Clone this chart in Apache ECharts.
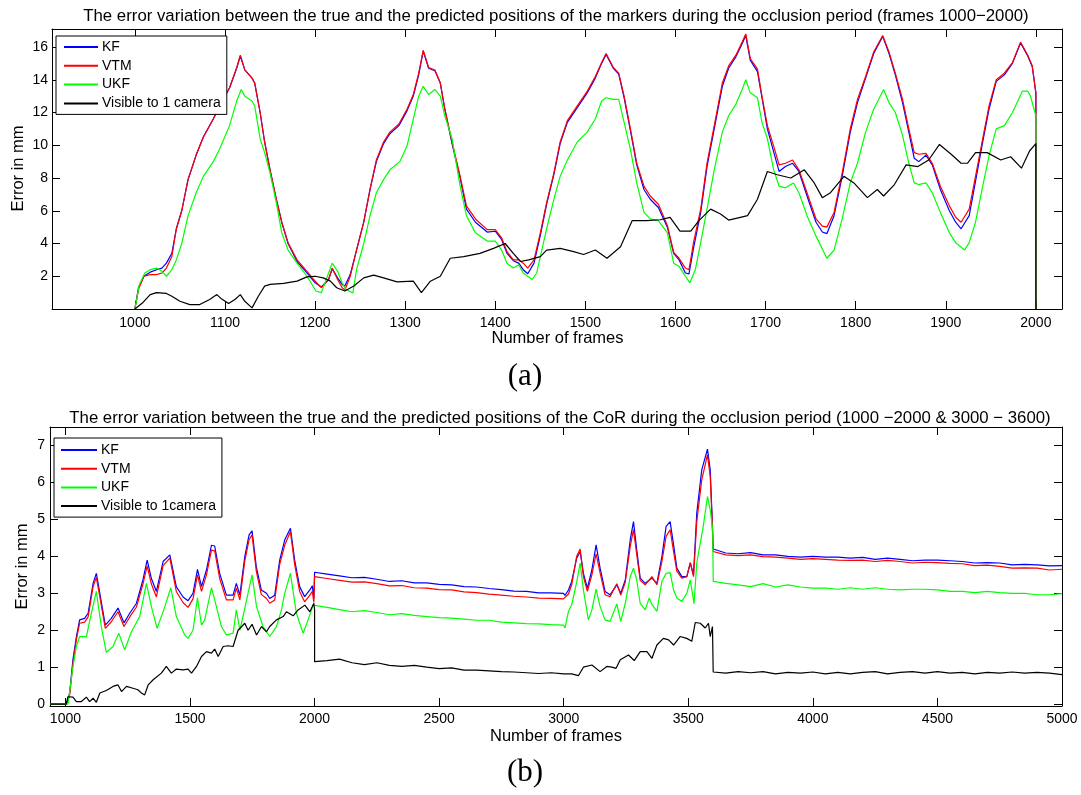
<!DOCTYPE html>
<html>
<head>
<meta charset="utf-8">
<title>Error variation</title>
<script src="https://cdn.jsdelivr.net/npm/echarts@6.0.0/dist/echarts.min.js"></script>
<style>
html, body { margin: 0; background: #fff; }
#chart { width: 1081px; height: 795px; }
</style>
</head>
<body>
<div id="chart"></div>
<script>
// panel (a): markers, frames 1000-2000  [frame, error mm]
const kfA = [[1000,0],[1004,1.3],[1010,2.0],[1017,2.25],[1024,2.4],[1030,2.5],[1035,2.8],[1041,3.4],[1046,4.9],[1052,6.0],[1059,7.9],[1068,9.4],[1076,10.5],[1087,11.6],[1094,12.4],[1105,13.5],[1113,14.7],[1117,15.45],[1122,14.6],[1130,14.1],[1133,13.8],[1139,12.0],[1144,10.2],[1150,8.5],[1157,6.7],[1163,5.3],[1170,4.0],[1180,2.9],[1191,2.2],[1200,1.6],[1207,1.35],[1215,1.8],[1219,2.45],[1225,1.9],[1230,1.5],[1233,1.4],[1239,2.1],[1246,3.6],[1254,5.3],[1261,7.3],[1268,9.0],[1276,10.1],[1283,10.7],[1293,11.2],[1302,12.1],[1309,13.0],[1315,14.3],[1320,15.75],[1326,14.7],[1333,14.55],[1339,13.8],[1344,12.2],[1352,10.1],[1361,8.0],[1368,6.1],[1378,5.3],[1391,4.7],[1400,4.75],[1407,4.25],[1413,3.4],[1420,2.95],[1426,2.8],[1431,2.4],[1436,2.15],[1443,2.8],[1450,4.5],[1457,6.4],[1465,8.2],[1472,10.1],[1480,11.4],[1491,12.3],[1502,13.2],[1511,14.1],[1518,15.0],[1523,15.55],[1531,14.7],[1537,14.35],[1543,12.9],[1550,10.9],[1557,8.8],[1565,7.3],[1572,6.7],[1581,6.2],[1591,5.0],[1598,3.4],[1604,3.0],[1611,2.2],[1615,2.15],[1620,3.7],[1628,5.9],[1635,8.7],[1643,11.0],[1652,13.6],[1659,14.7],[1667,15.4],[1674,16.2],[1678,16.7],[1683,15.2],[1691,14.5],[1696,12.9],[1702,11.0],[1709,9.6],[1715,8.4],[1722,8.7],[1730,8.9],[1737,8.4],[1746,6.9],[1756,5.3],[1763,4.7],[1768,4.6],[1776,5.7],[1785,8.1],[1794,10.8],[1802,12.6],[1811,14.1],[1820,15.6],[1830,16.65],[1837,15.6],[1844,14.3],[1852,12.6],[1859,10.8],[1865,9.2],[1870,9.0],[1878,9.4],[1885,8.8],[1894,7.3],[1904,6.0],[1911,5.3],[1917,4.9],[1926,5.7],[1933,7.8],[1941,10.2],[1948,12.2],[1956,13.9],[1965,14.3],[1974,15.0],[1983,16.25],[1991,15.45],[1996,14.8],[2000,13.2],[2000,0]];
const vtmA = [[1000,0],[1004,1.2],[1010,2.0],[1017,2.1],[1024,2.1],[1030,2.2],[1035,2.5],[1041,3.2],[1046,4.9],[1052,6.0],[1059,7.9],[1068,9.4],[1076,10.5],[1087,11.6],[1094,12.4],[1105,13.5],[1113,14.75],[1117,15.5],[1122,14.6],[1130,14.1],[1133,13.8],[1139,12.0],[1144,10.2],[1150,8.5],[1157,6.7],[1163,5.3],[1170,4.05],[1180,3.0],[1191,2.3],[1200,1.7],[1207,1.3],[1215,1.8],[1219,2.5],[1225,1.8],[1230,1.3],[1233,1.15],[1239,2.0],[1246,3.6],[1254,5.3],[1261,7.3],[1268,9.1],[1276,10.2],[1283,10.8],[1293,11.3],[1302,12.2],[1309,13.1],[1315,14.4],[1320,15.8],[1326,14.75],[1333,14.6],[1339,13.8],[1344,12.2],[1352,10.2],[1361,8.1],[1368,6.3],[1378,5.5],[1391,4.85],[1400,4.85],[1407,4.35],[1413,3.5],[1420,3.0],[1426,3.0],[1431,2.8],[1436,2.5],[1443,3.0],[1450,4.65],[1457,6.5],[1465,8.3],[1472,10.2],[1480,11.5],[1491,12.4],[1502,13.3],[1511,14.2],[1518,15.05],[1523,15.6],[1531,14.75],[1537,14.4],[1543,13.0],[1550,11.0],[1557,8.9],[1565,7.5],[1572,6.9],[1581,6.4],[1591,5.1],[1598,3.45],[1604,3.1],[1611,2.5],[1615,2.4],[1620,4.05],[1628,6.1],[1635,8.9],[1643,11.2],[1652,13.8],[1659,14.85],[1667,15.5],[1674,16.3],[1678,16.8],[1683,15.3],[1691,14.65],[1696,13.0],[1702,11.2],[1709,9.95],[1715,8.8],[1722,8.9],[1730,9.1],[1737,8.5],[1746,7.1],[1756,5.5],[1763,5.06],[1768,5.0],[1776,5.9],[1785,8.3],[1794,11.0],[1802,12.8],[1811,14.2],[1820,15.7],[1830,16.7],[1837,15.7],[1844,14.4],[1852,12.8],[1859,11.0],[1865,9.55],[1870,9.45],[1878,9.5],[1885,8.9],[1894,7.5],[1904,6.3],[1911,5.6],[1917,5.3],[1926,6.1],[1933,8.1],[1941,10.4],[1948,12.4],[1956,14.0],[1965,14.4],[1974,15.05],[1983,16.3],[1991,15.5],[1996,14.85],[2000,13.2],[2000,0]];
const ukfA = [[1000,0],[1005,1.5],[1011,2.2],[1017,2.4],[1024,2.5],[1030,2.3],[1035,2.0],[1041,2.4],[1046,3.0],[1052,4.0],[1059,5.7],[1068,7.1],[1076,8.1],[1087,9.0],[1094,9.75],[1105,11.2],[1113,12.7],[1118,13.4],[1122,13.0],[1130,12.7],[1133,12.4],[1139,10.4],[1144,9.55],[1150,8.3],[1157,6.5],[1163,4.65],[1170,3.6],[1180,2.8],[1191,2.0],[1201,1.1],[1207,1.0],[1215,2.2],[1219,2.8],[1225,2.3],[1230,1.6],[1234,1.2],[1242,0.98],[1246,2.4],[1254,4.0],[1261,5.7],[1268,7.1],[1276,7.9],[1283,8.5],[1294,9.0],[1302,9.95],[1309,11.6],[1315,13.0],[1320,13.6],[1326,13.1],[1333,13.4],[1339,13.0],[1344,11.8],[1352,10.4],[1361,7.5],[1368,5.7],[1378,4.65],[1391,4.15],[1400,4.15],[1407,3.6],[1413,2.8],[1420,2.5],[1426,2.7],[1431,2.2],[1441,1.8],[1446,2.2],[1450,3.2],[1457,4.9],[1465,6.7],[1472,8.1],[1480,9.1],[1491,10.2],[1502,10.8],[1511,11.6],[1518,12.7],[1523,12.9],[1531,12.8],[1537,12.8],[1543,11.4],[1550,9.75],[1557,7.7],[1565,5.9],[1572,5.5],[1581,5.4],[1591,4.65],[1598,2.8],[1604,2.6],[1611,2.0],[1616,1.6],[1622,2.4],[1628,4.05],[1635,6.1],[1643,8.5],[1652,10.8],[1659,11.8],[1667,12.5],[1674,13.4],[1678,14.0],[1683,13.2],[1691,12.9],[1696,11.4],[1702,10.4],[1709,8.5],[1715,7.5],[1722,7.4],[1731,7.7],[1737,7.1],[1746,5.7],[1756,4.45],[1768,3.1],[1776,3.6],[1785,5.5],[1794,7.7],[1802,8.9],[1811,10.8],[1820,12.2],[1831,13.4],[1837,12.6],[1844,12.0],[1852,10.6],[1859,8.9],[1865,7.7],[1870,7.6],[1878,7.7],[1885,7.1],[1894,5.9],[1904,4.65],[1911,4.05],[1921,3.6],[1926,4.05],[1933,5.3],[1941,7.5],[1948,9.35],[1956,11.0],[1965,11.2],[1974,12.0],[1985,13.3],[1991,13.3],[1994,13.0],[2000,11.8],[2000,0]];
const camA = [[1000,0],[1009,0.4],[1017,0.88],[1024,1.0],[1035,0.95],[1041,0.78],[1050,0.47],[1061,0.27],[1072,0.27],[1083,0.58],[1091,0.88],[1096,0.62],[1104,0.33],[1111,0.58],[1117,0.88],[1122,0.47],[1130,0.07],[1137,0.78],[1144,1.4],[1150,1.5],[1165,1.56],[1180,1.7],[1191,1.96],[1200,2.0],[1209,1.9],[1217,1.7],[1224,1.3],[1233,1.1],[1243,1.4],[1254,1.9],[1265,2.07],[1276,1.9],[1291,1.66],[1309,1.7],[1318,1.0],[1328,1.7],[1339,2.0],[1350,3.1],[1365,3.2],[1383,3.4],[1398,3.7],[1411,4.0],[1420,3.4],[1428,2.9],[1437,3.0],[1450,3.2],[1457,3.6],[1472,3.7],[1487,3.5],[1498,3.33],[1511,3.6],[1524,3.1],[1539,3.8],[1552,5.4],[1568,5.4],[1583,5.45],[1594,5.6],[1605,4.75],[1617,4.75],[1626,5.4],[1639,6.1],[1650,5.8],[1659,5.43],[1672,5.6],[1680,5.7],[1691,6.7],[1702,8.4],[1713,8.2],[1728,8.0],[1743,8.5],[1754,7.7],[1763,6.8],[1772,7.1],[1787,8.1],[1798,7.7],[1813,6.8],[1824,7.3],[1831,6.9],[1843,7.6],[1856,8.8],[1869,8.7],[1881,9.1],[1893,10.05],[1906,9.45],[1917,8.9],[1924,8.9],[1933,9.55],[1946,9.55],[1961,9.1],[1972,9.3],[1984,8.6],[1993,9.65],[2000,10.1],[2000,0]];

// panel (b): CoR, frames 1000-5000
const kfB = [[938,0],[1004,0],[1017,0.3],[1030,1.2],[1044,1.83],[1057,2.28],[1077,2.32],[1091,2.46],[1111,3.27],[1124,3.54],[1138,3.0],[1160,2.14],[1184,2.32],[1211,2.6],[1235,2.2],[1258,2.46],[1285,2.73],[1311,3.36],[1328,3.9],[1345,3.4],[1365,3.05],[1392,3.86],[1419,4.04],[1445,3.18],[1472,2.9],[1492,2.8],[1512,3.0],[1530,3.65],[1546,3.18],[1566,3.63],[1586,4.3],[1599,4.28],[1619,3.54],[1646,2.95],[1673,2.95],[1686,3.27],[1700,2.95],[1720,4.0],[1737,4.58],[1749,4.69],[1766,3.72],[1786,3.09],[1807,3.0],[1820,2.86],[1840,2.95],[1860,3.9],[1880,4.44],[1903,4.76],[1920,3.9],[1940,3.18],[1960,2.91],[1981,3.09],[1991,3.2],[1997,2.85],[2000,3.57],[2050,3.52],[2100,3.47],[2150,3.42],[2200,3.43],[2250,3.38],[2300,3.32],[2350,3.34],[2400,3.28],[2450,3.28],[2500,3.24],[2550,3.23],[2600,3.18],[2650,3.17],[2700,3.13],[2750,3.1],[2800,3.06],[2850,3.05],[2900,3.01],[2950,3.01],[2999,3.0],[3005,2.94],[3019,3.09],[3032,3.32],[3052,3.95],[3066,4.13],[3079,3.54],[3095,3.14],[3113,3.63],[3130,4.31],[3146,3.68],[3166,3.05],[3186,2.96],[3213,3.23],[3229,3.0],[3247,3.36],[3267,4.45],[3280,4.94],[3293,4.18],[3307,3.41],[3327,3.27],[3354,3.41],[3374,3.27],[3394,3.99],[3411,4.81],[3427,4.94],[3441,4.31],[3454,3.68],[3474,3.45],[3494,3.45],[3508,3.82],[3521,3.5],[3534,5.17],[3554,6.34],[3577,6.9],[3588,6.34],[3595,5.17],[3600,4.2],[3650,4.09],[3700,4.07],[3750,4.1],[3800,4.04],[3850,4.04],[3900,4.0],[3950,3.98],[4000,4.0],[4050,3.98],[4100,3.98],[4150,3.95],[4200,3.97],[4250,3.92],[4300,3.95],[4350,3.92],[4400,3.88],[4450,3.9],[4500,3.9],[4550,3.88],[4600,3.86],[4650,3.82],[4700,3.83],[4750,3.82],[4800,3.77],[4850,3.78],[4900,3.77],[4950,3.74],[5000,3.75]];
const vtmB = [[938,0],[1004,0],[1017,0.25],[1030,1.1],[1044,1.75],[1057,2.19],[1077,2.22],[1091,2.36],[1111,3.18],[1124,3.43],[1138,2.9],[1160,2.05],[1184,2.23],[1211,2.5],[1235,2.1],[1258,2.36],[1285,2.63],[1311,3.25],[1328,3.74],[1345,3.25],[1365,2.9],[1392,3.75],[1419,3.95],[1445,3.05],[1472,2.75],[1492,2.62],[1512,2.85],[1530,3.5],[1546,3.05],[1566,3.5],[1586,4.17],[1599,4.15],[1619,3.4],[1646,2.82],[1673,2.82],[1686,3.14],[1700,2.82],[1720,3.88],[1737,4.45],[1749,4.58],[1766,3.6],[1786,2.97],[1807,2.86],[1820,2.73],[1840,2.82],[1860,3.78],[1880,4.3],[1903,4.67],[1920,3.78],[1940,3.05],[1960,2.77],[1981,2.95],[1991,3.05],[1997,2.75],[2000,3.45],[2050,3.4],[2100,3.35],[2150,3.3],[2200,3.31],[2250,3.26],[2300,3.2],[2350,3.21],[2400,3.15],[2450,3.14],[2500,3.1],[2550,3.09],[2600,3.04],[2650,3.02],[2700,2.98],[2750,2.95],[2800,2.92],[2850,2.9],[2900,2.87],[2950,2.86],[2999,2.85],[3005,2.8],[3019,2.98],[3032,3.23],[3052,4.0],[3066,4.2],[3079,3.45],[3095,3.05],[3113,3.5],[3130,4.07],[3146,3.55],[3166,2.96],[3186,2.91],[3213,3.26],[3229,2.95],[3247,3.3],[3267,4.27],[3280,4.72],[3293,4.05],[3307,3.35],[3327,3.23],[3354,3.45],[3374,3.23],[3394,3.86],[3411,4.54],[3427,4.72],[3441,4.13],[3454,3.6],[3474,3.41],[3494,3.45],[3508,3.83],[3521,3.45],[3534,4.94],[3554,6.07],[3577,6.75],[3588,6.16],[3595,5.08],[3600,4.13],[3650,4.04],[3700,4.02],[3750,4.04],[3800,3.99],[3850,3.98],[3900,3.95],[3950,3.92],[4000,3.94],[4050,3.92],[4100,3.9],[4150,3.89],[4200,3.9],[4250,3.86],[4300,3.89],[4350,3.86],[4400,3.82],[4450,3.84],[4500,3.83],[4550,3.81],[4600,3.8],[4650,3.75],[4700,3.76],[4750,3.73],[4800,3.68],[4850,3.69],[4900,3.68],[4950,3.63],[5000,3.65]];
const ukfB = [[938,0],[1010,0],[1030,1.0],[1044,1.56],[1057,1.83],[1084,1.83],[1104,2.46],[1124,3.05],[1144,2.1],[1164,1.4],[1191,1.56],[1214,1.92],[1238,1.47],[1265,1.96],[1298,2.37],[1325,3.27],[1345,2.64],[1368,2.05],[1399,2.64],[1423,3.15],[1445,2.37],[1479,1.87],[1492,1.78],[1512,2.0],[1530,2.88],[1546,2.14],[1559,2.28],[1586,3.15],[1599,2.82],[1626,2.1],[1646,1.87],[1673,1.92],[1686,2.55],[1700,2.0],[1720,2.6],[1749,3.5],[1767,2.64],[1793,2.1],[1820,1.83],[1847,2.1],[1867,2.55],[1880,3.0],[1903,3.54],[1927,2.46],[1954,1.92],[1974,2.28],[1994,2.68],[2000,2.65],[2050,2.62],[2100,2.56],[2150,2.5],[2200,2.53],[2250,2.48],[2300,2.42],[2350,2.45],[2400,2.4],[2450,2.37],[2500,2.34],[2550,2.33],[2600,2.3],[2650,2.27],[2700,2.27],[2750,2.22],[2800,2.2],[2850,2.18],[2900,2.17],[2950,2.15],[2999,2.14],[3005,2.06],[3019,2.51],[3032,2.69],[3052,3.3],[3066,3.82],[3079,3.09],[3099,2.28],[3113,2.55],[3130,3.11],[3146,2.64],[3166,2.28],[3186,2.24],[3213,2.71],[3229,2.24],[3247,2.73],[3267,3.45],[3280,3.68],[3293,3.36],[3307,2.73],[3327,2.55],[3343,2.87],[3354,2.7],[3374,2.51],[3394,3.32],[3411,3.54],[3427,3.56],[3441,3.09],[3454,2.87],[3474,2.78],[3494,3.0],[3508,3.36],[3523,2.72],[3534,3.82],[3560,4.81],[3577,5.62],[3588,5.26],[3598,4.72],[3600,3.32],[3650,3.27],[3700,3.23],[3750,3.18],[3800,3.26],[3850,3.17],[3900,3.23],[3950,3.17],[4000,3.14],[4050,3.14],[4100,3.11],[4150,3.15],[4200,3.11],[4250,3.15],[4300,3.11],[4350,3.09],[4400,3.11],[4450,3.11],[4500,3.09],[4550,3.05],[4600,3.05],[4650,3.02],[4700,3.05],[4750,3.02],[4800,3.0],[4850,3.0],[4900,2.96],[4950,2.96],[5000,2.99]];
const camB = [[938,0],[1003,0],[1010,0.2],[1030,0.19],[1044,0.07],[1064,0.07],[1084,0.19],[1097,0.07],[1111,0.16],[1124,0.05],[1138,0.3],[1164,0.37],[1191,0.48],[1211,0.52],[1225,0.34],[1245,0.48],[1271,0.43],[1291,0.39],[1305,0.3],[1318,0.25],[1332,0.52],[1352,0.66],[1385,0.84],[1405,1.02],[1425,0.84],[1445,0.95],[1472,0.93],[1492,0.95],[1506,0.84],[1526,1.02],[1546,1.29],[1566,1.42],[1586,1.38],[1599,1.49],[1613,1.29],[1633,1.56],[1653,1.58],[1673,1.56],[1693,2.0],[1720,2.19],[1733,2.0],[1749,2.16],[1767,1.87],[1787,2.1],[1807,1.96],[1820,2.1],[1847,2.28],[1874,2.37],[1887,2.5],[1914,2.39],[1934,2.55],[1961,2.68],[1981,2.5],[1997,2.73],[2000,2.55],[2000,1.15],[2050,1.18],[2100,1.22],[2150,1.12],[2200,1.07],[2250,1.12],[2300,1.05],[2350,1.02],[2400,1.05],[2450,1.0],[2500,0.96],[2550,0.98],[2600,0.92],[2650,0.92],[2700,0.9],[2750,0.88],[2800,0.87],[2850,0.85],[2900,0.83],[2950,0.85],[3000,0.82],[3032,0.82],[3059,0.77],[3079,1.0],[3113,1.06],[3146,0.88],[3173,1.02],[3193,1.0],[3210,0.97],[3227,1.2],[3260,1.33],[3283,1.18],[3307,1.42],[3334,1.42],[3354,1.24],[3374,1.6],[3400,1.78],[3421,1.74],[3441,1.6],[3467,1.83],[3494,1.78],[3514,1.7],[3528,2.21],[3548,2.19],[3568,2.06],[3581,2.19],[3588,1.83],[3597,2.1],[3600,0.87],[3650,0.84],[3700,0.88],[3750,0.85],[3800,0.88],[3850,0.82],[3900,0.86],[3950,0.84],[4000,0.87],[4050,0.82],[4100,0.86],[4150,0.82],[4200,0.86],[4250,0.88],[4300,0.82],[4350,0.86],[4400,0.88],[4450,0.84],[4500,0.88],[4550,0.84],[4600,0.86],[4650,0.82],[4700,0.86],[4750,0.84],[4800,0.87],[4850,0.84],[4900,0.86],[4950,0.84],[5000,0.8]];

// tick values
const xTicksA = [1000, 1100, 1200, 1300, 1400, 1500, 1600, 1700, 1800, 1900, 2000];
const yTicksA = [2, 4, 6, 8, 10, 12, 14, 16];
const xTicksB = [1000, 1500, 2000, 2500, 3000, 3500, 4000, 4500, 5000];
const yTicksB = [0, 1, 2, 3, 4, 5, 6, 7];

const namesA = ['KF', 'VTM', 'UKF', 'Visible to 1 camera'];
const namesB = ['KF', 'VTM', 'UKF', 'Visible to 1camera'];
const colors = ['#0000ff', '#ff0000', '#00ff00', '#000000'];

window.onload = () => {
    const font = '"Liberation Sans", Arial, Helvetica, sans-serif';
    const serif = '"Liberation Serif", "DejaVu Serif", serif';

    // one side of the box; only bottom / left carry labels
    const axis = (gridIndex, position, min, max, ticks, labels, margin) => ({
        type: 'value',
        gridIndex: gridIndex,
        position: position,
        min: min,
        max: max,
        axisLine: { show: true, onZero: false, lineStyle: { color: '#000', width: 1 } },
        axisTick: { show: true, inside: true, length: 8, customValues: ticks, lineStyle: { color: '#000', width: 1 } },
        axisLabel: {
            show: labels, customValues: ticks, color: '#000', fontSize: 14, fontFamily: font, margin: margin,
            formatter: v => String(v)
        },
        splitLine: { show: false }
    });

    const line = (name, data, color, xi, yi) => ({
        name: name,
        type: 'line',
        data: data,
        xAxisIndex: xi,
        yAxisIndex: yi,
        symbol: 'none',
        showSymbol: false,
        animation: false,
        lineStyle: { color: color, width: 1.2 },
        itemStyle: { color: color }
    });

    const legend = (names, left, top, itemWidth, gap, padding) => ({
        data: names,
        orient: 'vertical',
        left: left,
        top: top,
        icon: 'rect',
        itemWidth: itemWidth,
        itemHeight: 2,
        itemGap: gap,
        padding: padding,
        borderColor: '#000',
        borderWidth: 1,
        borderRadius: 0,
        backgroundColor: '#fff',
        selectedMode: false,
        textStyle: { fontSize: 14, fontFamily: font, color: '#000', padding: [0, 0, 0, -1] }
    });

    const text = (str, x, y, size, family, rotation) => ({
        type: 'text',
        x: x,
        y: y,
        rotation: rotation || 0,
        style: { text: str, fontSize: size, fontFamily: family, fill: '#000', align: 'center', verticalAlign: 'middle' }
    });

    const seriesA = [kfA, vtmA, ukfA, camA].map((d, i) => line(namesA[i], d, colors[i], 0, 0));
    const seriesB = [kfB, vtmB, ukfB, camB].map((d, i) => line(namesB[i], d, colors[i], 2, 2));

    const option = {
        backgroundColor: '#fff',
        animation: false,
        grid: [
            { left: 52, top: 29, width: 1010, height: 280 },
            { left: 50, top: 427, width: 1012, height: 279 }
        ],
        xAxis: [
            axis(0, 'bottom', 908, 2029, xTicksA, true, 7),
            axis(0, 'top', 908, 2029, xTicksA, false, 7),
            axis(1, 'bottom', 938, 5000, xTicksB, true, 6),
            axis(1, 'top', 938, 5000, xTicksB, false, 6)
        ],
        yAxis: [
            axis(0, 'left', 0, 17.1, yTicksA, true, 4),
            axis(0, 'right', 0, 17.1, yTicksA, false, 4),
            axis(1, 'left', -0.05, 7.5, yTicksB, true, 5),
            axis(1, 'right', -0.05, 7.5, yTicksB, false, 5)
        ],
        legend: [
            legend(namesA, 56, 36, 34, 4.8, [4, 6, 4, 8]),
            legend(namesB, 54, 438, 36, 4.7, [5, 6, 4, 7])
        ],
        graphic: [
            text('The error variation between the true and the predicted positions of the markers during the occlusion period (frames 1000\u22122000)', 556, 16, 16.8, font),
            text('The error variation between the true and the predicted positions of the CoR during the occlusion period (1000 \u22122000 & 3000 \u2212 3600)', 560, 418, 16.8, font),
            text('Number of frames', 557.5, 338.5, 16.5, font),
            text('Number of frames', 556, 736, 16.5, font),
            text('Error in mm', 18.5, 168.5, 16.5, font, Math.PI / 2),
            text('Error in mm', 22.5, 566.5, 16.5, font, Math.PI / 2),
            text('(a)', 525, 377, 31, serif),
            text('(b)', 525, 773, 31, serif)
        ],
        series: seriesA.concat(seriesB)
    };

    const myChart = echarts.init(document.querySelector('#chart'));
    myChart.setOption(option);
};
</script>
</body>
</html>
